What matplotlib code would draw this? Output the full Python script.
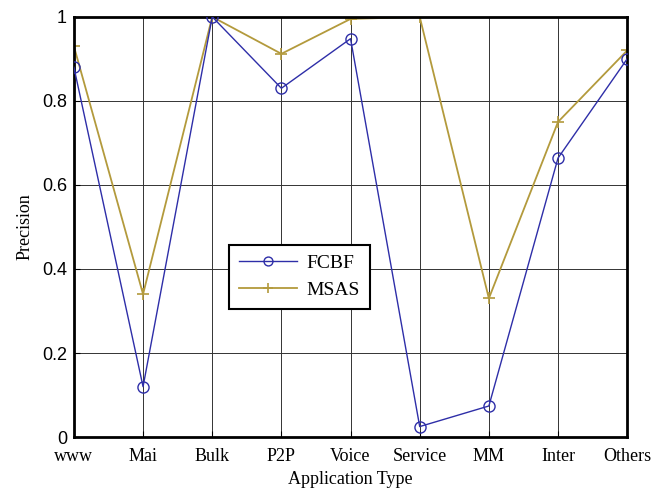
import matplotlib
matplotlib.use("Agg")
import matplotlib.pyplot as plt
import numpy as np

categories = ["www", "Mai", "Bulk", "P2P", "Voice", "Service", "MM", "Inter", "Others"]
fcbf = [0.88, 0.12, 1.0, 0.83, 0.948, 0.025, 0.074, 0.664, 0.90]
msas = [0.93, 0.34, 1.0, 0.912, 0.995, 1.0, 0.33, 0.75, 0.92]
yticks = [0, 0.2, 0.4, 0.6, 0.8, 1]
ytick_labels = ["0", "0.2", "0.4", "0.6", "0.8", "1"]

fig = plt.figure(figsize=(6.54, 4.95), dpi=100)
ax = fig.add_axes([0.113, 0.117, 0.846, 0.849])
x = np.arange(len(categories))

ax.plot(x, fcbf, color="#2e2ea8", lw=1.0, marker="o", ms=8, mfc="none",
        mec="#2e2ea8", mew=1.0, label="FCBF", zorder=3)
ax.plot(x, msas, color="#b39a3c", lw=1.3, marker="+", ms=9, mew=1.2,
        label="MSAS", zorder=2)

ax.set_xlim(0, len(categories) - 1)
ax.set_ylim(0, 1)
ax.set_xticks(x)
ax.set_xticklabels(categories, family="Liberation Serif", fontsize=13)
ax.set_yticks(yticks)
ax.set_yticklabels(ytick_labels, family="Liberation Sans", fontsize=13)
ax.grid(True, color="#333333", lw=0.7)
ax.tick_params(direction="in", length=4, width=0.8)
ax.tick_params(axis="x", pad=8)
ax.tick_params(axis="y", pad=5)
for s in ax.spines.values():
    s.set_linewidth(2.0)
    s.set_color("black")

ax.set_xlabel("Application Type", family="Liberation Serif", fontsize=13, labelpad=4)
ax.set_ylabel("Precision", family="Liberation Serif", fontsize=13, labelpad=6)

leg = ax.legend(loc="lower left", bbox_to_anchor=(0.28, 0.305), prop={"family": "Liberation Serif", "size": 14},
                fancybox=False, edgecolor="black", framealpha=1, handlelength=3.0,
                borderpad=0.5, labelspacing=0.5, handletextpad=0.5, borderaxespad=0,
                markerscale=0.8)
leg.get_frame().set_linewidth(1.5)

fig.savefig("out.png", dpi=100)
